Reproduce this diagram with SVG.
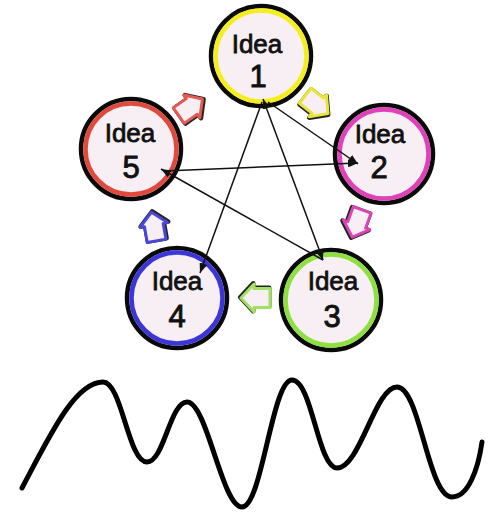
<svg xmlns="http://www.w3.org/2000/svg" width="493" height="512" viewBox="0 0 493 512">
<style>
.outer{fill:#f8eff5;stroke:#0a0a0a;stroke-width:4.5}
.inner{fill:none;stroke-width:4.5}
.lbl{font-family:"Liberation Sans","DejaVu Sans",sans-serif;font-size:26px;fill:#111;stroke:#111;stroke-width:0.8;text-anchor:middle}
.num{font-family:"Liberation Sans","DejaVu Sans",sans-serif;font-size:31px;fill:#111;stroke:#111;stroke-width:0.9;text-anchor:middle}
.con{stroke:#111;stroke-width:1.5;fill:none}
.shadow{fill:none;stroke:#222;stroke-width:4.5;stroke-linejoin:round}
.ba{fill:#f8eff5;stroke-width:3;stroke-linejoin:round}
.wave{fill:none;stroke:#000;stroke-width:5;stroke-linecap:round;stroke-linejoin:round}
</style>
<defs>
<marker id="ah" viewBox="0 0 10 8" refX="10" refY="4" markerWidth="10" markerHeight="8" markerUnits="userSpaceOnUse" orient="auto-start-reverse">
<path d="M0,0 L10,4 L0,8 z" fill="#111"/>
</marker>
<path id="blk" d="M14,0 L1,-14 L1,-9.5 L-15,-9.5 L-15,9.5 L1,9.5 L1,14 Z"/>
</defs>
<rect width="493" height="512" fill="#fff"/>

<g id="idea1">
<circle class="outer" cx="261" cy="56" r="50"/>
<circle class="inner" cx="261" cy="56" r="45.5" stroke="#f4ee1c"/>
<text class="lbl" x="257" y="53">Idea</text>
<text class="num" x="258" y="87">1</text>
</g>
<g id="idea2">
<circle class="outer" cx="384" cy="154" r="49"/>
<circle class="inner" cx="384" cy="154" r="44.5" stroke="#e040b8"/>
<text class="lbl" x="380" y="143">Idea</text>
<text class="num" x="379" y="178">2</text>
</g>
<g id="idea3">
<circle class="outer" cx="331" cy="300" r="50"/>
<circle class="inner" cx="331" cy="300" r="45.5" stroke="#8ee040"/>
<text class="lbl" x="333" y="290">Idea</text>
<text class="num" x="332" y="327">3</text>
</g>
<g id="idea4">
<circle class="outer" cx="177" cy="298" r="50"/>
<circle class="inner" cx="177" cy="298" r="45.5" stroke="#3a36d8"/>
<text class="lbl" x="177" y="290">Idea</text>
<text class="num" x="177" y="327">4</text>
</g>
<g id="idea5">
<circle class="outer" cx="131" cy="149" r="50"/>
<circle class="inner" cx="131" cy="149" r="45.5" stroke="#e04a3c"/>
<text class="lbl" x="130" y="142">Idea</text>
<text class="num" x="131" y="178">5</text>
</g>

<g id="connectors">
<line class="con" x1="262" y1="102" x2="200" y2="273" marker-end="url(#ah)"/>
<line class="con" x1="263" y1="99" x2="323" y2="260" marker-start="url(#ah)" marker-end="url(#ah)"/>
<line class="con" x1="268" y1="102" x2="358" y2="164" marker-end="url(#ah)"/>
<line class="con" x1="164" y1="171" x2="358" y2="163" marker-end="url(#ah)"/>
<line class="con" x1="161" y1="169" x2="323" y2="260" marker-start="url(#ah)"/>

<g transform="translate(191,107) rotate(-35)"><use href="#blk" class="shadow" transform="translate(0.8,0.8)"/><use href="#blk" class="ba" stroke="#e25a52"/></g>
<g transform="translate(317,105) rotate(38)"><use href="#blk" class="shadow" transform="translate(0.8,0.8)"/><use href="#blk" class="ba" stroke="#e8e43a"/></g>
<g transform="translate(357,224) rotate(110)"><use href="#blk" class="shadow" transform="translate(0.8,0.8)"/><use href="#blk" class="ba" stroke="#d845b4"/></g>
<g transform="translate(255,298) rotate(180)"><use href="#blk" class="shadow" transform="translate(0.8,0.8)"/><use href="#blk" class="ba" stroke="#a2e062"/></g>
<g transform="translate(154,226) rotate(-100)"><use href="#blk" class="shadow" transform="translate(0.8,0.8)"/><use href="#blk" class="ba" stroke="#4a46d8"/></g>
</g>

<path class="wave" d="M22,488 C50,435 75,382 103,382 C122,382 128,462 147,462 C164,462 170,402 187,402 C207,402 222,507 242,507 C262,507 272,380 292,380 C312,380 318,468 337,468 C360,468 375,387 397,387 C420,387 428,497 452,497 C468,497 478,470 482,442"/>
</svg>
